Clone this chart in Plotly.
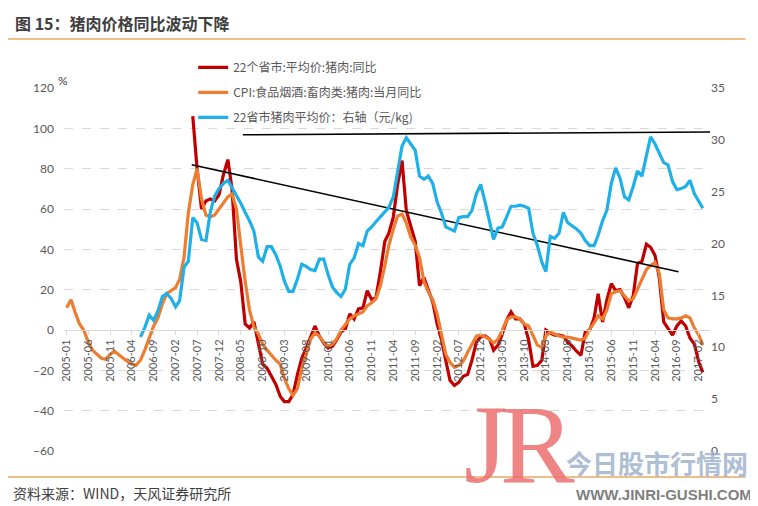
import plotly.graph_objects as go
import pandas as pd

# ---------------- data ----------------
cpi_start = '2005-01-01'
cpi_pork_yoy = [
    11, 15, 9, 3, 0, -6, -10, -12, -14, -14.5,
    -12, -10.5, -12.5, -14, -15.5, -17, -17.5, -15, -10, -4,
    2, 6, 13, 18, 19.5, 21, 25, 36, 58, 72,
    80, 65, 57, 56, 57, 60, 63, 66, 67.5, 60,
    42, 24, 10, 1.5, -2, -7, -10, -12.5, -15, -17,
    -24, -29, -32.5, -29, -19, -12, -4.5, -1.5, -3, -6,
    -8, -7, -4.5, 0, 3, 5.5, 7, 8, 9, 12,
    13.5, 15.5, 22, 32, 42, 50, 56.5, 57.5, 53, 46,
    42, 36, 24, 19, 15, 8, -2, -12, -16, -18.5,
    -17.5, -15.5, -11, -7, -3, -2.5, -3.5, -4.5, -6.5, -4.5,
    0, 5, 6.5, 6.5, 5.5, 3, 2, -3, -7.5, -8.5,
    -3, -1, -2, -3, -3.5, -3.5, -4, -4.5, -5, -4,
    0.5, 3.5, 7, 5.5, 10, 18, 19, 19.5, 17, 14.5,
    15.5, 20, 25, 30, 32, 33.5, 28, 10, 6, 5.5,
    5.5, 6, 7, 6, 1, -2.5, -7.5,
]

yoy22_start = '2007-06-01'
pork_yoy_22 = [
    106, 80, 60, 64, 65, 64, 67, 77, 84.5, 70,
    35, 24, 3, 1, 4, -6, -17, -19, -23, -27,
    -33, -35.5, -35.5, -32, -22, -14, -9, -3, 2, -3,
    -6.5, -9, -8, -5, -1, 0.5, 8, 5.5, 10.5, 11,
    19.5, 15, 16, 29, 44, 48, 56, 72, 84, 59,
    52, 44, 22, 26, 20, 14, 3, -4.5, -15, -25,
    -27.5, -26, -23, -22, -15, -6, -3.5, -3, -4.5, -10,
    -7.5, -2, 5, 9, 5.5, 5.5, 3, -5, -18, -17.5,
    -15, 0, -1.5, -2.5, -2.5, -3, -6, -8, -10.5, -12.5,
    -1, 0, 6, 18, 4, 15, 23, 19.5, 20, 16,
    11, 17, 33, 34, 42.5, 41, 37, 26, 4, 0.5,
    -2.5, 2, 4.5, 2, -4, -7, -16, -21,
]

price22_start = '2006-06-01'
pork_price_22 = [
    11, 11.9, 13.1, 12.6, 13.5, 14.9, 15.2, 14.7, 13.9, 14.5,
    17.7, 18.3, 22.5, 22, 20.4, 20.3, 23, 24.6, 25.3, 25.8,
    26.1, 25.4, 24.5, 23.9, 23, 22.2, 21.2, 18.7, 18.3, 19.7,
    19.7, 18.9, 17.8, 16.4, 15.4, 15.4, 16.6, 18, 17.8, 17.5,
    17.4, 18.5, 18.5, 17, 15.8, 15.3, 14.9, 15.6, 18, 18.6,
    20, 19.8, 21.2, 21.6, 22.1, 22.6, 23, 23.5, 24.5, 27,
    29.4, 30.2, 29.6, 29, 26.5, 26.2, 26.5, 25.8, 24, 23,
    21.6, 21.4, 21.2, 22.5, 22.6, 22.6, 23.2, 24.8, 25.7, 24,
    22, 20.4, 21.5, 21.6, 22.6, 23.6, 23.6, 23.7, 23.6, 23.4,
    21, 19.8, 18.2, 17.3, 20.7, 20.5, 21, 23, 22, 21.7,
    21.4, 21, 20.3, 19.8, 19.8, 20.8, 22.2, 23.2, 25.8, 27.3,
    26.3, 24.5, 24.2, 25.5, 27, 26.5, 28.5, 30.3, 29.6, 28.7,
    27.8, 27.6, 26, 25.2, 25.3, 25.5, 26.1, 24.8, 24.1, 23.4,
]

trend_flat_dates = ['2008-05-16', '2017-04-20']
trend_flat_vals = [96.8, 98.2]
trend_down_dates = ['2007-05-25', '2016-09-12']
trend_down_vals = [81.9, 28.9]

names = ['22个省市:平均价:猪肉:同比',
         'CPI:食品烟酒:畜肉类:猪肉:当月同比',
         '22省市猪肉平均价：右轴（元/kg)']

left_ticks = list(range(-60, 121, 20))
right_ticks = list(range(0, 36, 5))
x_ticks = pd.date_range('2005-01-01', '2017-02-01', freq='5MS')

# ---------------- figure ----------------
d_cpi = pd.date_range(cpi_start, periods=len(cpi_pork_yoy), freq='MS')
d_yoy = pd.date_range(yoy22_start, periods=len(pork_yoy_22), freq='MS')
d_pr = pd.date_range(price22_start, periods=len(pork_price_22), freq='MS')

RED, ORANGE, BLUE = '#C00000', '#ED7D31', '#1FB0E8'
FONT = 'Lato, "Noto Sans CJK SC", sans-serif'
CJK = '"Noto Sans CJK SC", sans-serif'
GRAY = '#595959'

fig = go.Figure()
fig.add_trace(go.Scatter(x=d_yoy, y=pork_yoy_22, name=names[0], mode='lines',
                         line=dict(color=RED, width=3.2), legendgroup='a'))
fig.add_trace(go.Scatter(x=d_cpi, y=cpi_pork_yoy, name=names[1], mode='lines',
                         line=dict(color=ORANGE, width=3.2), legendgroup='b'))
fig.add_trace(go.Scatter(x=d_pr, y=pork_price_22, name=names[2], mode='lines',
                         line=dict(color=BLUE, width=3.2), yaxis='y2', legendgroup='c'))
fig.add_trace(go.Scatter(x=trend_flat_dates, y=trend_flat_vals, mode='lines',
                         line=dict(color='black', width=1.6), showlegend=False, yaxis='y'))
fig.add_trace(go.Scatter(x=trend_down_dates, y=trend_down_vals, mode='lines',
                         line=dict(color='black', width=1.6), showlegend=False, yaxis='y'))

# page body has an 8px margin: figure is 750x498 placed at (8,8)
fig.update_layout(
    width=750, height=498,
    margin=dict(l=56, r=48, t=80, b=55),
    paper_bgcolor='white', plot_bgcolor='white',
    font=dict(family=FONT, size=12, color=GRAY),
    showlegend=True,
    legend=dict(x=0.2, y=1.097, xanchor='left', yanchor='top',
                bgcolor='rgba(0,0,0,0)', font=dict(family=CJK, size=12, color=GRAY),
                tracegroupgap=6, traceorder='grouped'),
    xaxis=dict(type='date', range=['2004-12-14', '2017-04-20'],
               tickvals=x_ticks, tickformat='%Y-%m', tickangle=-90,
               tickfont=dict(size=11, color=GRAY),
               showgrid=False, showline=True, linecolor='#D9D9D9', linewidth=1,
               ticks='outside', ticklen=4, tickcolor='#D9D9D9',
               anchor='free', position=1/3, zeroline=False),
    yaxis=dict(range=[-60, 120], tickvals=left_ticks, showgrid=True,
               gridcolor='#D9D9D9', griddash='dash', gridwidth=1,
               zeroline=False, showline=False, ticks='', ticklabelstandoff=9,
               tickfont=dict(size=12, color=GRAY)),
    yaxis2=dict(range=[0, 35], tickvals=right_ticks, overlaying='y', side='right',
                showgrid=False, zeroline=False, showline=False,
                tickfont=dict(size=12, color=GRAY)),
)

# annotations given in screen pixels (X, Y); plot area spans X 64..709.5, Y 88..451
PW, PH = 645.5, 363.0
anns = [
    dict(text='<b>图 15：猪肉价格同比波动下降</b>', x=13, y=23, xa='left',
         font=dict(family=CJK, size=16, color='#404040')),
    dict(text='%', x=56, y=81, xa='left', font=dict(family=FONT, size=12, color='#404040')),
    dict(text='资料来源：WIND，天风证券研究所', x=11, y=493, xa='left',
         font=dict(family=CJK, size=14, color='#404040')),
    dict(text='J', x=486, y=444, xa='center',
         font=dict(family='Liberation Serif', size=112, color='rgba(236,110,110,0.85)')),
    dict(text='R', x=537, y=444, xa='center',
         font=dict(family='Liberation Serif', size=112, color='rgba(236,110,110,0.85)')),
    dict(text='<b>今日股市行情网</b>', x=564, y=462, xa='left',
         font=dict(family=CJK, size=26, color='rgba(160,178,204,0.85)')),
    dict(text='<b>WWW.JINRI-GUSHI.COM</b>', x=574, y=494, xa='left',
         font=dict(family='Liberation Sans Narrow, Liberation Sans', size=15, color='#7F7F7F')),
]
for a in anns:
    fig.add_annotation(xref='paper', yref='paper', showarrow=False, xanchor=a['xa'], yanchor='middle',
                       x=(a['x'] - 64) / PW, y=(451 - a['y']) / PH, text=a['text'], font=a['font'])

for yy in (39, 477):
    fig.add_shape(type='line', xref='paper', yref='paper',
                  x0=(8 - 64) / PW, x1=(745 - 64) / PW,
                  y0=(451 - yy) / PH, y1=(451 - yy) / PH,
                  line=dict(color='#E8AA62', width=1.3))

fig.write_html('out.html')
